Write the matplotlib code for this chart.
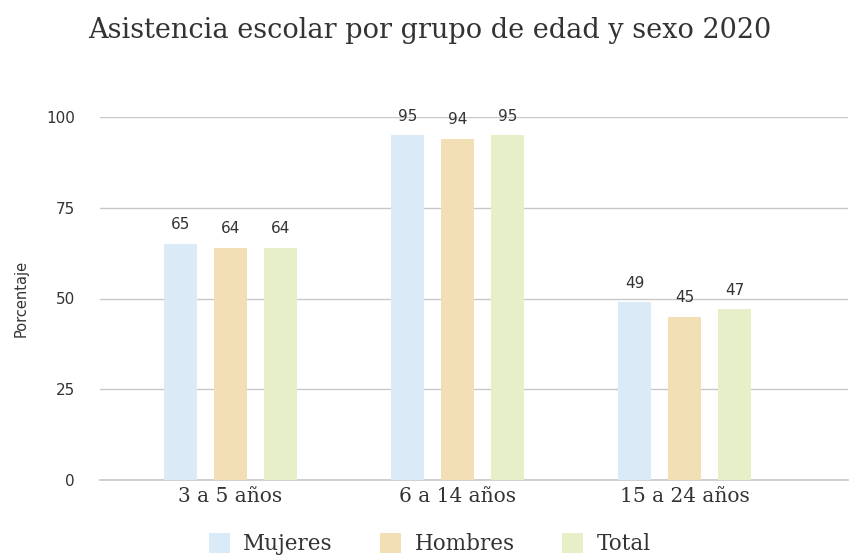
import matplotlib
matplotlib.use("Agg")
import matplotlib.pyplot as plt
import numpy as np
from matplotlib.patches import Patch

categories = ["3 a 5 años", "6 a 14 años", "15 a 24 años"]
series_names = ["Mujeres", "Hombres", "Total"]
mujeres = [65, 95, 49]
hombres = [64, 94, 45]
total = [64, 95, 47]
yticks = [0, 25, 50, 75, 100]

colors = ["#dbeaf7", "#f3dfb6", "#e6efc8"]
serif = ["DejaVu Serif"]

fig = plt.figure(figsize=(8.59, 5.58), dpi=100)
ax = fig.add_axes([100/859, 1-480/558, (848-100)/859, (480-117)/558])

x = np.arange(len(categories))
width = 0.145
offset = 0.22
for i, (vals, name) in enumerate(zip([mujeres, hombres, total], series_names)):
    pos = x + (i - 1) * offset
    ax.bar(pos, vals, width=width, color=colors[i], zorder=2)
    for p, v in zip(pos, vals):
        ax.text(p, v + 3.2, f"{v}", ha="center", va="bottom", fontsize=11,
                color="#333333", family="DejaVu Sans", zorder=3)

ax.set_xlim(-0.573, 2.72)
ax.set_ylim(0, 100)
ax.set_yticks(yticks)
ax.set_yticklabels([str(t) for t in yticks], fontsize=11, color="#333333")
ax.set_xticks(x)
ax.set_xticklabels(categories, fontsize=14.5, family=serif, color="#333333")
ax.tick_params(axis="both", length=0)
ax.tick_params(axis="y", pad=18)
ax.tick_params(axis="x", pad=5)
ax.grid(axis="y", color="#c8c8c8", linewidth=1, zorder=0)
ax.axhline(0, color="#c8c8c8", linewidth=1.2, zorder=1, clip_on=False)
for s in ax.spines.values():
    s.set_visible(False)
ax.set_ylabel("Porcentaje", fontsize=10.5, color="#333333", labelpad=2)
ax.yaxis.set_label_coords(-0.095, 0.5)

fig.text(0.5, 0.945, "Asistencia escolar por grupo de edad y sexo 2020",
         ha="center", va="center", fontsize=19.5, family=serif, color="#333333")

handles = [Patch(facecolor=c, edgecolor="none") for c in colors]
fig.legend(handles, series_names, loc="center", bbox_to_anchor=(0.5, 0.025),
           ncol=3, frameon=False, prop={"family": serif, "size": 15.5},
           handlelength=1.0, handleheight=1.1, columnspacing=2.2, handletextpad=0.6,
           labelcolor="#333333")

fig.savefig("out.png", dpi=100)
